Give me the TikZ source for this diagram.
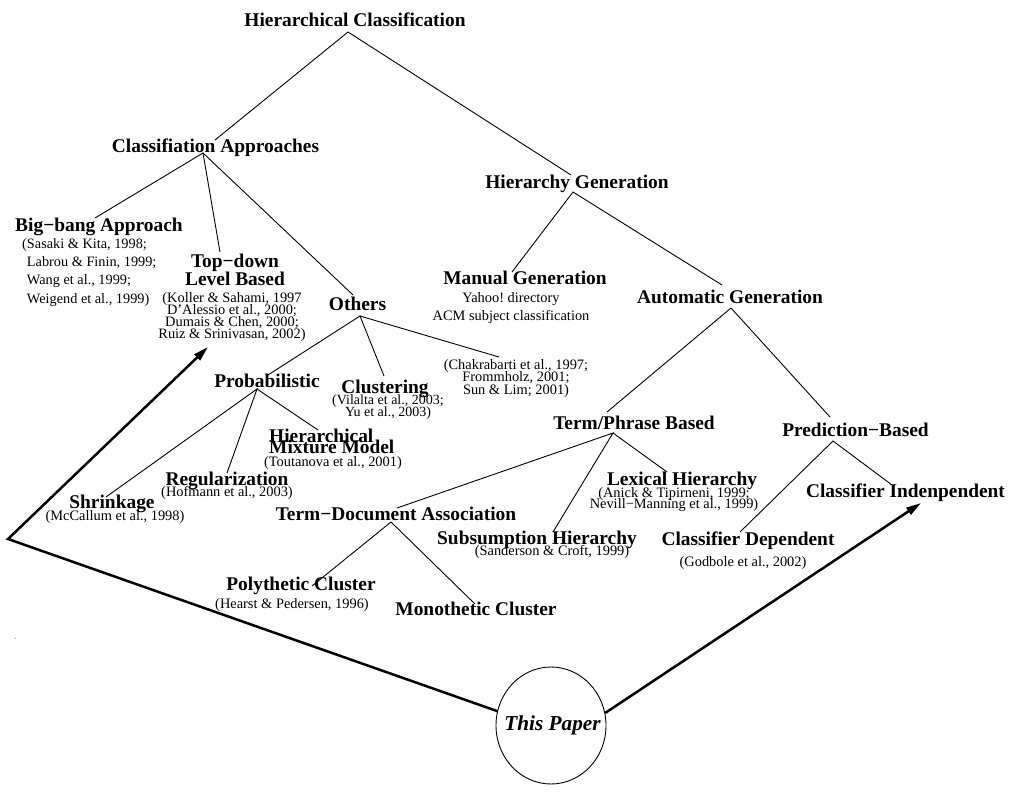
\documentclass[tikz,border=0pt]{standalone}
\usepackage{fontspec}
\setmainfont{Liberation Serif}
\usetikzlibrary{arrows.meta,shapes.geometric}
\begin{document}
\lineskiplimit=-50pt
\frenchspacing
\begin{tikzpicture}[x=1pt,y=-1pt,
  lbl/.style={font=\fontsize{19.4}{19.4}\selectfont\bfseries,inner sep=0pt,anchor=base},
  cit/.style={font=\fontsize{14.4}{12}\selectfont,inner sep=0pt,anchor=base},
  citblk/.style={inner sep=0pt,anchor=north,align=center},
  link/.style={line width=0.9pt},
  bigarrow/.style={line width=2.5pt,-{Triangle[length=15pt,width=8pt]}},
]
\useasboundingbox (0,0) rectangle (1013,793);

% ---- labels ----
\node[lbl] (hc) at (355,26) {Hierarchical Classification};
\node[lbl] (ca) at (215.5,152) {Classifiation Approaches};
\node[lbl] (bb) at (99,231) {Big−bang Approach};
\node[inner sep=0pt,anchor=north west,align=left,font=\fontsize{14.3}{18.3}\selectfont] (bbc) at (22,238)
  {(Sasaki \& Kita, 1998;\\\phantom{(}Labrou \& Finin, 1999;\\\phantom{(}Wang et al., 1999;\\\phantom{(}Weigend et al., 1999)};
\node[inner sep=0pt,anchor=north,align=center,font=\fontsize{19.4}{18}\selectfont\bfseries] (td) at (235,254) {Top−down\\Level Based};
\node[citblk,font=\fontsize{14.4}{12}\selectfont] (tdc) at (232,292)
  {(Koller \& Sahami, 1997\\D’Alessio et al., 2000;\\Dumais \& Chen, 2000;\\Ruiz \& Srinivasan, 2002)};
\node[lbl] (ot) at (357.5,310) {Others};
\node[citblk,font=\fontsize{14.4}{12.5}\selectfont] (otc) at (516,359)
  {(Chakrabarti et al., 1997;\\Frommholz, 2001;\\Sun \& Lim; 2001)};
\node[lbl] (pr) at (267,387) {Probabilistic};
\node[lbl] (cl) at (385,393) {Clustering};
\node[citblk,font=\fontsize{14}{12}\selectfont] (clc) at (388,395) {(Vilalta et al., 2003;\\Yu et al., 2003)};
\node[inner sep=0pt,anchor=north west,align=left,font=\fontsize{19.4}{11}\selectfont\bfseries] (hm) at (269,429) {Hierarchical\\Mixture Model};
\node[cit] (hmc) at (333,466) {(Toutanova et al., 2001)};
\node[lbl] (rg) at (227,485) {Regularization};
\node[cit] (rgc) at (227,496) {(Hofmann et al., 2003)};
\node[lbl] (sh) at (112,508) {Shrinkage};
\node[cit] (shc) at (115,520) {(McCallum et al., 1998)};
\node[lbl] (hg) at (577,188) {Hierarchy Generation};
\node[lbl] (mg) at (525,284) {Manual Generation};
\node[citblk,font=\fontsize{14.4}{18}\selectfont] (mgc) at (511,292) {Yahoo! directory\\ACM subject classification};
\node[lbl] (ag) at (730,303) {Automatic Generation};
\node[lbl] (tp) at (634,429) {Term/Phrase Based};
\node[lbl] (pb) at (855.5,436) {Prediction−Based};
\node[lbl] (lh) at (682,485) {Lexical Hierarchy};
\node[citblk,font=\fontsize{14.4}{11.5}\selectfont] (lhc) at (674,487) {(Anick \& Tipirneni, 1999;\\Nevill−Manning et al., 1999)};
\node[lbl] (tda) at (396,520) {Term−Document Association};
\node[lbl] (sb) at (537,544) {Subsumption Hierarchy};
\node[cit] (sbc) at (552,555) {(Sanderson \& Croft, 1999)};
\node[lbl] (cd) at (748,545) {Classifier Dependent};
\node[cit] (cdc) at (743,566) {(Godbole et al., 2002)};
\node[lbl] (ci) at (905.5,497) {Classifier Indenpendent};
\node[lbl] (pc) at (301,590) {Polythetic Cluster};
\node[cit] (pcc) at (292,608) {(Hearst \& Pedersen, 1996)};
\node[lbl] (mc) at (476,615) {Monothetic Cluster};
\node[draw,ellipse,line width=0.9pt,minimum width=110pt,minimum height=117pt,inner sep=0pt,
  font=\fontsize{21.3}{21.3}\selectfont\bfseries\itshape] (paper) at (551,725.5) {\makebox[0pt]{\hspace{3pt}This Paper}};

% ---- connector end points ----
\coordinate (hcB) at (348,32);
\coordinate (caT) at (215,140);
\coordinate (hgT) at (571,175);
\coordinate (caB) at (203,153);
\coordinate (bbT) at (95,218);
\coordinate (tdT) at (220,252);
\coordinate (otT) at (353,295);
\coordinate (otB) at (360,316);
\coordinate (prT) at (268,375);
\coordinate (clT) at (384,376);
\coordinate (otcT) at (499,357);
\coordinate (prB) at (257,389);
\coordinate (shT) at (106,497);
\coordinate (rgT) at (227,473);
\coordinate (hmT) at (318,430);
\coordinate (hgB) at (573,192);
\coordinate (mgT) at (512,272);
\coordinate (agT) at (722,285);
\coordinate (agB) at (731,308);
\coordinate (tpT) at (607,412);
\coordinate (pbT) at (830,417);
\coordinate (tpB) at (613,433);
\coordinate (tdaT) at (397,508);
\coordinate (sbT) at (553,532);
\coordinate (lhT) at (667,472);
\coordinate (pbB) at (833,441);
\coordinate (cdT) at (740,532);
\coordinate (ciT) at (892,485);
\coordinate (tdaB) at (391,522);
\coordinate (pcT) at (312,586);
\coordinate (mcT) at (475,604);
\coordinate (corner) at (8,539);
\coordinate (leftTip) at (208,347);
\coordinate (rightTip) at (921,503);

% ---- tree connectors ----
\draw[link] (caT) -- (hcB) -- (hgT);
\draw[link] (bbT) -- (caB) -- (tdT);
\draw[link] (caB) -- (otT);
\draw[link] (prT) -- (otB) -- (clT);
\draw[link] (otB) -- (otcT);
\draw[link] (shT) -- (prB) -- (rgT);
\draw[link] (prB) -- (hmT);
\draw[link] (mgT) -- (hgB) -- (agT);
\draw[link] (tpT) -- (agB) -- (pbT);
\draw[link] (tdaT) -- (tpB) -- (sbT);
\draw[link] (tpB) -- (lhT);
\draw[link] (cdT) -- (pbB) -- (ciT);
\draw[link] (pcT) -- (tdaB) -- (mcT);

% ---- thick arrows ----
\draw[bigarrow] (paper.165) -- (corner) -- (leftTip);
\draw[bigarrow] (paper.13) -- (rightTip);

% stray dot
\fill (15,638) circle (0.5pt);
\end{tikzpicture}
\end{document}
